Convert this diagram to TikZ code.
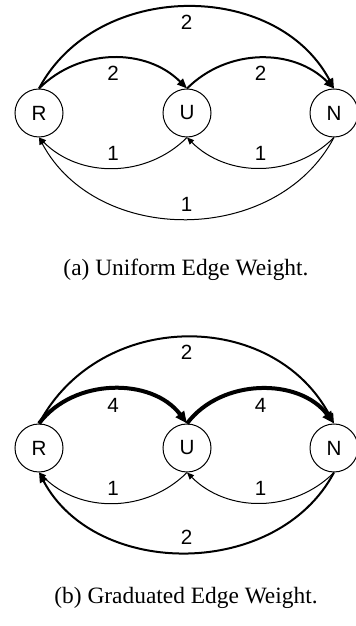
\documentclass[tikz,border=0pt]{standalone}
\usepackage{fontspec}
\setmainfont{Liberation Serif}
\setsansfont{Liberation Sans}
\usetikzlibrary{arrows.meta,positioning}

\begin{document}
\begin{tikzpicture}[x=0.5pt,y=0.5pt,
st/.style={draw,circle,line width=0.5pt,minimum size=24pt,inner sep=0pt,font=\sffamily\fontsize{10.3}{12}\selectfont},
lab/.style={auto,swap,inner sep=3.5pt,font=\sffamily\fontsize{10.3}{12}\selectfont},
e1/.style={line width=0.5pt,-{Triangle[length=3.5pt,width=3pt]}},
e2/.style={line width=1pt,-{Triangle[length=5pt,width=4pt]}},
e4/.style={line width=2pt,-{Triangle[length=6pt,width=5pt]}},
captxt/.style={font=\fontsize{11.7}{14}\selectfont}]
\useasboundingbox (0,0) rectangle (356,626);
\node(Ra)[st] at (39,513){R};
\node(Ua)[st,right=49.5pt of Ra]{U};
\node(Na)[st,right=49pt of Ua]{N};
\node(Rb)[st,below=143pt of Ra]{R};
\node(Ub)[st,right=49.5pt of Rb]{U};
\node(Nb)[st,right=49pt of Ub]{N};
\node(CA)[captxt] at (186,356){(a) Uniform Edge Weight.};
\node(CB)[captxt] at (186,28){(b) Graduated Edge Weight.};
\draw[e2](Ra.north) to[bend left=45] node[lab]{2} (Ua.north);
\draw[e2](Ua.north) to[bend left=45] node[lab]{2} (Na.north);
\draw[e2](Ra.north) to[bend left=62,looseness=1.07] node[lab]{2} (Na.north);
\draw[e1](Ua.south) to[bend left=45] node[lab]{1} (Ra.south);
\draw[e1](Na.south) to[bend left=45] node[lab]{1} (Ua.south);
\draw[e1](Na.south) to[bend left=62,looseness=1.07] node[lab]{1} (Ra.south);
\draw[e4](Rb.north) to[bend left=53] node[lab]{4} (Ub.north);
\draw[e4](Ub.north) to[bend left=53] node[lab]{4} (Nb.north);
\draw[e2](Rb.north) to[bend left=62,looseness=1.13] node[lab]{2} (Nb.north);
\draw[e1](Ub.south) to[bend left=45] node[lab]{1} (Rb.south);
\draw[e1](Nb.south) to[bend left=45] node[lab]{1} (Ub.south);
\draw[e2](Nb.south) to[bend left=62,looseness=1.05] node[lab]{2} (Rb.south);
\end{tikzpicture}
\end{document}
